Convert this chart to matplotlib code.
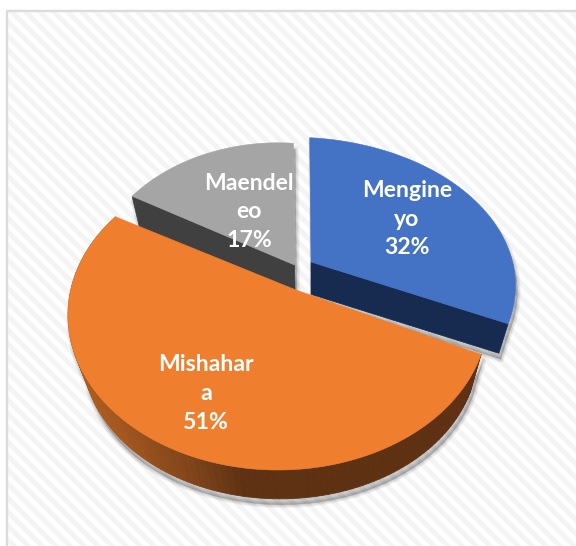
import numpy as np
import matplotlib
matplotlib.use('Agg')
import matplotlib.pyplot as plt
from matplotlib.patches import Polygon, Rectangle

# Pie values
labels = ['Mengine\nyo', 'Mishahar\na', 'Maendel\neo']
values = [32, 51, 17]
top_colors = ['#4472c4', '#ef7f2f', '#a5a5a5']
side_colors = ['#172b50', '#5f3013', '#404040']

W, H = 576, 546
# ellipse of the tilted pie, and where the pie centre lands on it
cx, cy, a, b = 278, 315, 210, 155
apex = np.array([296.0, 290.0])
vanish = np.array([311.0, 950.0])

# per slice: apex position and x/y scale about the apex
slice_apex = [(311, 262), (296, 290), (294.5, 265)]
slice_scale = [(1.065, 0.96), (1.0, 1.0), (0.90, 0.94)]
label_pos = [(407, 219), (206, 393.5), (249, 212)]


def project(theta):
    # circle point (clockwise from top) to screen, with perspective
    x = np.sin(theta)
    y = -np.cos(theta)
    p = np.array([(apex[0] - cx) / a, (apex[1] - cy) / b])
    g = 1 / np.sqrt(1 - p @ p)
    d = p[0] * x + p[1] * y
    u = (p[0] + x / g + g / (1 + g) * d * p[0]) / (1 + d)
    v = (p[1] + y / g + g / (1 + g) * d * p[1]) / (1 + d)
    return np.column_stack([cx + a * u, cy + b * v])


def drop(pts, k):
    return vanish + (pts - vanish) * k


def shadow(ax, pts, z):
    # soft, falls down and slightly to the right, nothing on the upper edges
    for lw in [5, 3.8, 2.6, 1.4, 0.5]:
        ax.add_patch(Polygon(pts + np.array([2, 6]), closed=True, facecolor='black',
                             edgecolor='black', alpha=0.045, lw=lw, joinstyle='round', zorder=z))


fig = plt.figure(figsize=(W / 100, H / 100), dpi=100)
ax = fig.add_axes([0, 0, 1, 1])
ax.set_xlim(0, W)
ax.set_ylim(H, 0)
ax.axis('off')

# background with the pale diagonal stripes
frame = Rectangle((7, 10.5), W, H, facecolor='white', edgecolor='#dcdcdc', lw=1.6, zorder=0)
ax.add_patch(frame)
for s in np.arange(-H, W + H, 14):
    line, = ax.plot([s, s + H], [0, H], color='#f4f4f4', lw=3.6, zorder=0.5)
    line.set_clip_path(frame)
# redraw the border over the stripes
ax.add_patch(Rectangle((7, 10.5), W, H, facecolor='none', edgecolor='#dcdcdc', lw=1.6, zorder=0.6))

fracs = np.array(values) / sum(values)
edges = np.concatenate([[0], np.cumsum(fracs)]) * 2 * np.pi
draw_order = [2, 0, 1]

for i in draw_order:
    th = np.linspace(edges[i], edges[i + 1], 120)
    arc = project(th)
    pos = np.array(slice_apex[i], dtype=float)
    arc = pos + (arc - apex) * np.array(slice_scale[i])
    top = np.vstack([pos, arc])
    z = 2 + draw_order.index(i)

    if i == 1:
        # orange slice shows its outer rim, light on the left, dark further on
        k = 0.94
        low = drop(arc, k)
        shadow(ax, np.vstack([arc, low[::-1]]), z)
        ramp_x = [60, 110, 193, 240, 500]
        ramp_c = np.array([[0xb0, 0x5f, 0x22], [0xa5, 0x58, 0x1f], [0x7d, 0x43, 0x1a],
                           [0x5f, 0x32, 0x13], [0x5f, 0x30, 0x13]]) / 255
        for j in range(len(arc) - 1):
            xm = (arc[j, 0] + arc[j + 1, 0]) / 2
            col = [np.interp(xm, ramp_x, ramp_c[:, c]) for c in range(3)]
            quad = [arc[j], arc[j + 1], low[j + 1], low[j]]
            ax.add_patch(Polygon(quad, closed=True, facecolor=col, edgecolor=col, lw=0.6, zorder=z))
    else:
        k = 0.953
        # flat cut face is the one facing the viewer
        outer = arc[-1] if i == 0 else arc[0]
        side = np.array([pos, outer, drop(outer, k), drop(pos, k)])
        shadow(ax, np.vstack([top, side]) if i == 2 else np.vstack([arc, side[[2, 3]]]), z)
        ax.add_patch(Polygon(side, closed=True, facecolor=side_colors[i],
                             edgecolor=side_colors[i], lw=0.5, zorder=z))

    ax.add_patch(Polygon(top, closed=True, facecolor=top_colors[i], edgecolor=top_colors[i],
                         lw=0.4, zorder=z + 0.1))

for i in range(len(values)):
    ax.text(label_pos[i][0], label_pos[i][1], f'{labels[i]}\n{values[i]}%', color='white',
            fontsize=16.6, fontweight='bold', family='Lato', ha='center', va='center',
            linespacing=1.45, zorder=10)

fig.savefig('out.png', dpi=100)
